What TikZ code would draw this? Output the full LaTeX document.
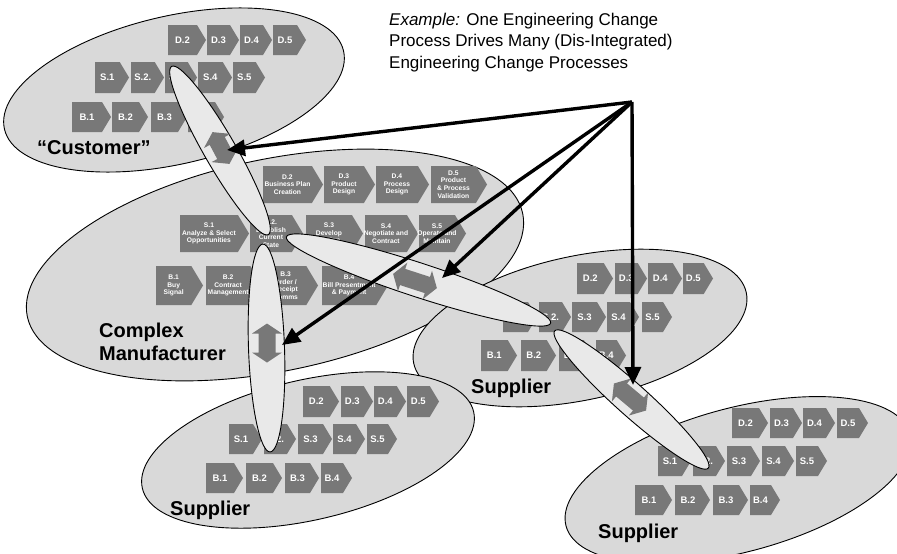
\documentclass[tikz,border=0pt]{standalone}
\usepackage{fontspec}
\setmainfont{Liberation Sans}
\usetikzlibrary{arrows.meta}

\definecolor{bigfill}{RGB}{217,217,217}
\definecolor{linkfill}{RGB}{233,233,233}
\definecolor{chevgray}{RGB}{120,120,120}

\tikzset{
  blob/.style={fill=bigfill, draw=black, line width=0.9pt},
  linkblob/.style={fill=linkfill, draw=black, line width=0.9pt},
  chevshape/.style={fill=chevgray},
  chevlabel/.style={text=white, font=\bfseries\fontsize{9.5}{10}\selectfont, inner sep=0pt},
  chevsmall/.style={text=white, font=\bfseries\fontsize{6.7}{7.6}\selectfont, align=center, inner sep=0pt},
  grouplabel/.style={font=\bfseries\fontsize{20}{23}\selectfont, anchor=base west, inner sep=0pt, align=left},
  pointer/.style={line width=3.4pt, -{Triangle[length=18pt,width=16pt]}},
  twoway/.style={fill=chevgray},
}

% process step: optional text style, name, left x, tip x, top y, bottom y, text
\newcommand\chevron[7][chevlabel]{%
  \fill[chevshape] (#3,#5) -- ({#4-0.3*(#6-#5)},#5) -- (#4,{(#5+#6)/2})
    -- ({#4-0.3*(#6-#5)},#6) -- (#3,#6) -- cycle;
  \node[#1] (#2) at ({(#3+#4)/2-0.15*(#6-#5)},{(#5+#6)/2}) {#7};
}

% fat two-headed arrow: centre x, centre y, angle, length
\newcommand\twoway[4]{%
  \begin{scope}[shift={(#1,#2)}, rotate=#3]
    \fill[twoway] ({-#4/2},0) -- ({-#4/2+10},15) -- ({-#4/2+10},8.5) -- ({#4/2-10},8.5)
      -- ({#4/2-10},15) -- ({#4/2},0) -- ({#4/2-10},-15) -- ({#4/2-10},-8.5)
      -- ({-#4/2+10},-8.5) -- ({-#4/2+10},-15) -- cycle;
  \end{scope}
}

\begin{document}
\begin{tikzpicture}[x=1pt,y=-1pt]
\useasboundingbox (0,0) rectangle (897,554);
\fill[white] (0,0) rectangle (897,554);

% ---------- complex manufacturer ----------
\draw[blob, rotate around={11.75:(275,265)}] (275,265) ellipse [x radius=253pt, y radius=106pt];
\chevron[chevsmall]{cm-d2}{263}{323}{166}{203}{D.2\\Business Plan\\Creation}
\chevron[chevsmall]{cm-d3}{324}{375}{166}{203}{D.3\\Product\\Design}
\chevron[chevsmall]{cm-d4}{376}{429}{166}{203}{D.4\\Process\\Design}
\chevron[chevsmall]{cm-d5}{431}{487}{166}{203}{D.5\\Product\\\& Process\\Validation}
\chevron[chevsmall]{cm-s1}{180}{249}{215}{252}{S.1\\Analyze \& Select\\Opportunities}
\chevron[chevsmall]{cm-s2}{250}{303}{215}{252}{S.2.\\Establish\\Current\\State}
\chevron[chevsmall]{cm-s3}{306}{363}{215}{252}{S.3\\Develop\\Design}
\chevron[chevsmall]{cm-s4}{365}{418}{215}{252}{S.4\\Negotiate and\\Contract}
\chevron[chevsmall]{cm-s5}{419}{466}{215}{252}{S.5\\Operate and\\Maintain}
\chevron[chevsmall]{cm-b1}{156}{203}{266}{305}{B.1\\Buy\\Signal}
\chevron[chevsmall]{cm-b2}{206}{262}{266}{305}{B.2\\Contract\\Management}
\chevron[chevsmall]{cm-b3}{265}{318}{266}{305}{B.3\\Order /\\Receipt\\Comms}
\chevron[chevsmall]{cm-b4}{322}{388}{266}{305}{B.4\\Bill Presentment\\\& Payment}
% a multi-line node's base is the baseline of its last line
\node[grouplabel] (cm-label) at (99,360) {Complex\\Manufacturer};

% ---------- customer ----------
\draw[blob, rotate around={13:(174,90)}] (174,90) ellipse [x radius=174pt, y radius=74pt];
\foreach \nm/\l/\r/\t in {cu-d2/168/206/D.2, cu-d3/207/239/D.3, cu-d4/240/272/D.4, cu-d5/273/306/D.5}
  {\chevron{\nm}{\l}{\r}{25}{55}{\t}}
\foreach \nm/\l/\r/\t in {cu-s1/95/129/S.1, cu-s2/131/164/S.2., cu-s3/165/197/S.3, cu-s4/198/232/S.4, cu-s5/233/265/S.5}
  {\chevron{\nm}{\l}{\r}{62}{93}{\t}}
\foreach \nm/\l/\r/\t in {cu-b1/72/111/B.1, cu-b2/112/148/B.2, cu-b3/151/187/B.3, cu-b4/188/224/B.4}
  {\chevron{\nm}{\l}{\r}{102}{132}{\t}}
\node[grouplabel] (cu-label) at (37,154) {“Customer”};

% ---------- supplier, middle right ----------
\draw[blob, rotate around={12:(580,328)}] (580,328) ellipse [x radius=170pt, y radius=72pt];
\foreach \nm/\l/\r/\t in {sa-d2/577/613/D.2, sa-d3/615/647/D.3, sa-d4/648/682/D.4, sa-d5/683/713/D.5}
  {\chevron{\nm}{\l}{\r}{263}{294}{\t}}
\foreach \nm/\l/\r/\t in {sa-s1/503/537/S.1, sa-s2/539/571/S.2., sa-s3/572/606/S.3, sa-s4/607/639/S.4, sa-s5/642/672/S.5}
  {\chevron{\nm}{\l}{\r}{302}{332}{\t}}
\foreach \nm/\l/\r/\t in {sa-b1/481/517/B.1, sa-b2/521/556/B.2, sa-b3/559/593/B.3, sa-b4/596/626/B.4}
  {\chevron{\nm}{\l}{\r}{340}{371}{\t}}
\node[grouplabel] (sa-label) at (471,393) {Supplier};

% ---------- supplier, bottom centre ----------
\draw[blob, rotate around={13:(308,450)}] (308,450) ellipse [x radius=170pt, y radius=70pt];
\foreach \nm/\l/\r/\t in {sb-d2/303/339/D.2, sb-d3/341/373/D.3, sb-d4/374/406/D.4, sb-d5/407/439/D.5}
  {\chevron{\nm}{\l}{\r}{386}{417}{\t}}
\foreach \nm/\l/\r/\t in {sb-s1/229/262/S.1, sb-s2/264/296/S.2., sb-s3/298/332/S.3, sb-s4/333/365/S.4, sb-s5/367/397/S.5}
  {\chevron{\nm}{\l}{\r}{424}{454}{\t}}
\foreach \nm/\l/\r/\t in {sb-b1/206/243/B.1, sb-b2/246/282/B.2, sb-b3/285/319/B.3, sb-b4/321/352/B.4}
  {\chevron{\nm}{\l}{\r}{463}{493}{\t}}
\node[grouplabel] (sb-label) at (170,515) {Supplier};

% ---------- supplier, bottom right ----------
\draw[blob, rotate around={15:(738,480)}] (738,480) ellipse [x radius=178pt, y radius=72pt];
\foreach \nm/\l/\r/\t in {sc-d2/732/768/D.2, sc-d3/770/802/D.3, sc-d4/803/835/D.4, sc-d5/837/868/D.5}
  {\chevron{\nm}{\l}{\r}{408}{438}{\t}}
\foreach \nm/\l/\r/\t in {sc-s1/658/691/S.1, sc-s2/693/725/S.2., sc-s3/727/760/S.3, sc-s4/762/794/S.4, sc-s5/796/827/S.5}
  {\chevron{\nm}{\l}{\r}{446}{476}{\t}}
\foreach \nm/\l/\r/\t in {sc-b1/635/672/B.1, sc-b2/675/710/B.2, sc-b3/713/748/B.3, sc-b4/750/780/B.4}
  {\chevron{\nm}{\l}{\r}{485}{515}{\t}}
\node[grouplabel] (sc-label) at (598,538) {Supplier};

% ---------- links between the S.2 steps ----------
\draw[linkblob, rotate around={-60.1:(220,150.5)}] (220,150.5) ellipse [x radius=97pt, y radius=16pt];
\draw[linkblob, rotate around={-88:(266.5,348)}] (266.5,348) ellipse [x radius=104pt, y radius=18pt];
\draw[linkblob, rotate around={-18.1:(418.5,280)}] (418.5,280) ellipse [x radius=139pt, y radius=17pt];
\draw[linkblob, rotate around={-41.8:(631.5,399.5)}] (631.5,399.5) ellipse [x radius=103pt, y radius=16pt];

\twoway{221}{148}{-62}{36}
\twoway{415}{281}{-18}{46}
\twoway{267}{343}{-90}{39}
\twoway{630}{397}{-40}{42}

% ---------- driving change process ----------
\coordinate (src) at (632,102);
\coordinate (hitA) at (227,150);
\coordinate (hitB) at (442,278);
\coordinate (hitC) at (282,345);
\coordinate (hitD) at (633,385);
\draw[pointer] (src) -- (hitA);
\draw[pointer] (src) -- (hitB);
\draw[pointer] (src) -- (hitC);
\draw[pointer] (src) -- (hitD);

\node[anchor=base west, align=left, inner sep=0pt, font=\fontsize{17}{21.5}\selectfont] (title) at (389,68)
  {\textit{Example:} One Engineering Change\\Process Drives Many (Dis-Integrated)\\Engineering Change Processes};
\end{tikzpicture}
\end{document}
